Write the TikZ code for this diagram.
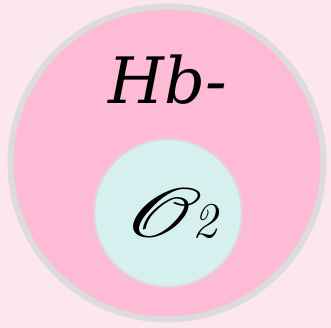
\documentclass[tikz,border=0pt]{standalone}
\usepackage{fontspec}
\usepackage{mathrsfs}
\usepackage{graphicx}
\usepackage{xcolor}
\usepackage{tikz}
\usetikzlibrary{positioning}
\newfontfamily\hbfont{DejaVu Serif}
\definecolor{bgpink}{HTML}{FCE6F0}
\definecolor{shellpink}{HTML}{FDBBD6}
\definecolor{rimgray}{HTML}{DCDCDC}
\definecolor{corecyan}{HTML}{D6EFEF}

\begin{document}
\begin{tikzpicture}[x=1pt, y=-1pt,
    shell/.style={circle, draw=rimgray, fill=shellpink, line width=6pt,
                  minimum size=313pt, inner sep=0pt},
    core/.style={circle, draw=rimgray!70!shellpink, fill=corecyan, line width=2pt,
                 minimum size=148pt, inner sep=0pt},
    lbl/.style={inner sep=0pt, text=black}
  ]
  \fill[bgpink] (0,0) rectangle (331,328);
  \useasboundingbox (0,0) rectangle (331,328);

  \node[shell] (hb)   at (167,163) {};
  \node[core]  (oxy)  at (168,213) {};

  \node[lbl, font=\hbfont\itshape\fontsize{64}{64}\selectfont] (hbtxt) at (168,80) {Hb-};
  \node[lbl] (oxytxt) at (171,214)
    {\scalebox{9.5}[7]{$\mathscr{O}$}\kern-9pt{\itshape\fontsize{50}{50}\selectfont 2}};
\end{tikzpicture}
\end{document}
